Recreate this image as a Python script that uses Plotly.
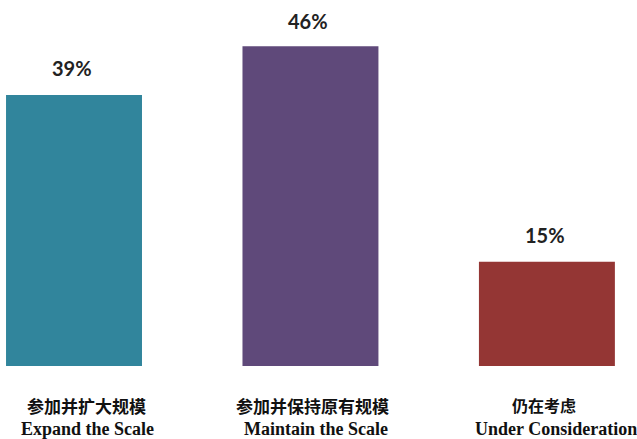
import plotly.graph_objects as go

categories_cn = ["参加并扩大规模", "参加并保持原有规模", "仍在考虑"]
categories_en = ["Expand the Scale", "Maintain the Scale", "Under Consideration"]
values = [39, 46, 15]
value_labels = ["39%", "46%", "15%"]
colors = ["#31859C", "#5F497A", "#943634"]

x = list(range(len(values)))

cn_sizes = [17, 17, 16]
cn_shift = [12, 2, -3]
en_shift = [13, 6, 9]
pct_shift = [27, 25, 27]

fig = go.Figure()
fig.add_trace(go.Bar(
    x=x, y=values, marker=dict(color=colors, line=dict(width=0)),
    width=0.575, hoverinfo="skip",
))

for i, (v, lab) in enumerate(zip(values, value_labels)):
    fig.add_annotation(x=i, y=v, xref="x", yref="y", text=f"<b>{lab}</b>",
                       showarrow=False, yanchor="middle", yshift=pct_shift[i], xshift=-2,
                       font=dict(family="Lato, Open Sans, sans-serif", size=20, color="#222222"))

for i, (cn, en) in enumerate(zip(categories_cn, categories_en)):
    fig.add_annotation(x=i, y=0, xref="x", yref="y", text=f"<b>{cn}</b>",
                       showarrow=False, yanchor="middle", yshift=-39, xshift=cn_shift[i],
                       font=dict(family="Noto Sans CJK SC", size=cn_sizes[i], color="#111111"))
    fig.add_annotation(x=i, y=0, xref="x", yref="y", text=f"<b>{en}</b>",
                       showarrow=False, yanchor="middle", yshift=-63, xshift=en_shift[i],
                       font=dict(family="Liberation Serif", size=18, color="#111111"))

fig.update_layout(
    width=637, height=439,
    margin=dict(l=0, r=0, t=0, b=73),
    paper_bgcolor="white", plot_bgcolor="white",
    showlegend=False,
    xaxis=dict(range=[-0.313, 2.381], visible=False, fixedrange=True),
    yaxis=dict(range=[0, 52.66], visible=False, fixedrange=True),
)

fig.write_html("out.html")
